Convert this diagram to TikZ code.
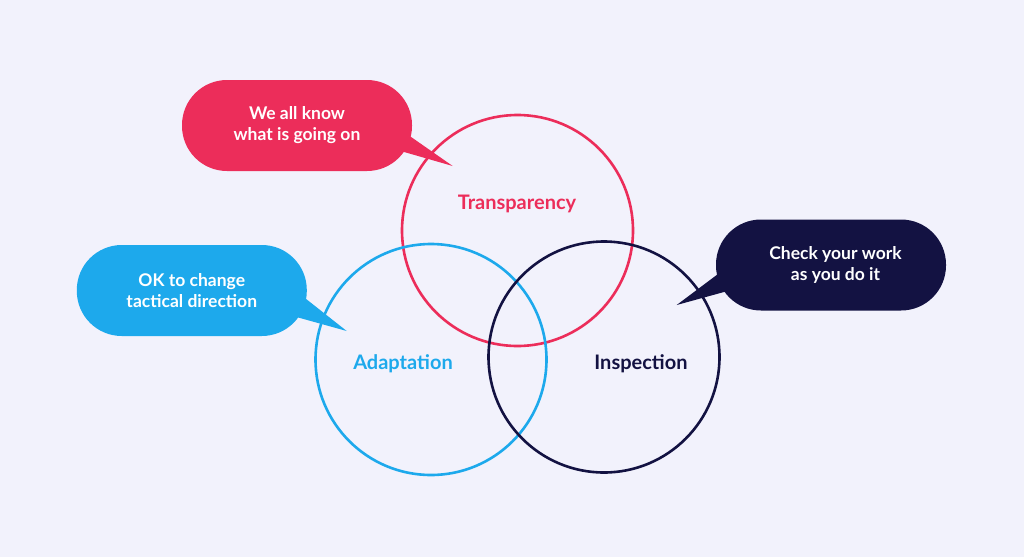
\documentclass[tikz,border=0pt]{standalone}
\usepackage{fontspec}
\setmainfont{Lato}
\usetikzlibrary{calc}
\definecolor{bg}{RGB}{242,242,252}
\definecolor{cred}{RGB}{236,45,90}
\definecolor{cblue}{RGB}{29,169,236}
\definecolor{cnavy}{RGB}{19,18,66}
\tikzset{
  ring/.style={circle,draw=#1,line width=2.6pt,inner sep=0pt,minimum size=231pt},
  ringlabel/.style={text=#1,font=\bfseries\fontsize{20}{22}\selectfont,inner sep=0pt},
  bubble/.style={fill=#1,rounded corners=45pt,minimum width=230pt,minimum height=91pt,
    text=white,font=\bfseries\fontsize{17.5}{21}\selectfont,align=center,inner sep=0pt},
}
\begin{document}
\begin{tikzpicture}[x=1pt,y=-1pt]
\useasboundingbox[fill=bg] (0,0) rectangle (1024,557);
% circles
\node[ring=cred]  (T) at (517.5,230.5) {};
\node[ring=cblue] (A) at (431,359.5) {};
\node[ring=cnavy] (I) at (604,357) {};
\node[ringlabel=cred]  (Tl) at (517,204) {Transparency};
\node[ringlabel=cblue] (Al) at (403,364) {Adaptation};
\node[ringlabel=cnavy] (Il) at (641,364) {Inspection};
% bubbles
\node[bubble=cred]  (rb) at (297,125.5) {We all know\\what is going on};
\node[bubble=cblue] (bb) at (191.8,290.5) {OK to change\\tactical direction};
\node[bubble=cnavy] (nb) at (831,265) {\hspace*{9pt}Check your work\\\hspace*{9pt}as you do it};
\coordinate (rt) at (452.7,166);
\coordinate (bt) at (346.7,331);
\coordinate (nt) at (676.7,305);
\fill[cred]  ($(rb.center)+(103.2,3.9)$) -- (rt) -- ($(rb.center)+(93.6,22.6)$) -- cycle;
\fill[cblue] ($(bb.center)+(105.7,1.7)$) -- (bt) -- ($(bb.center)+(95.3,23.9)$) -- cycle;
\fill[cnavy] ($(nb.center)+(-104.3,2.5)$) -- (nt) -- ($(nb.center)+(-93.9,23.4)$) -- cycle;
\end{tikzpicture}
\end{document}
